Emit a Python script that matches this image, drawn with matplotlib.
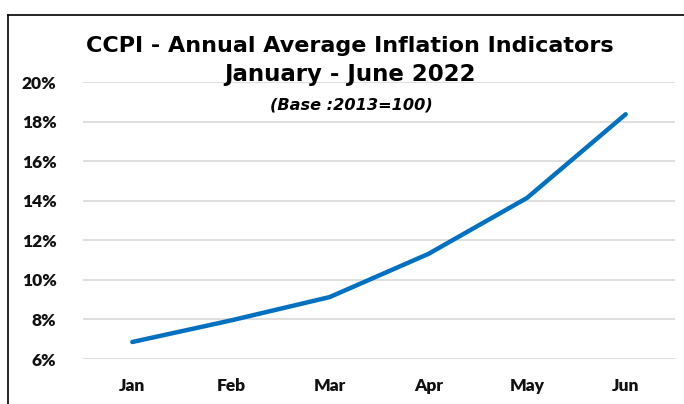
import matplotlib
matplotlib.use('Agg')
import matplotlib.pyplot as plt
from matplotlib.lines import Line2D
from matplotlib.ticker import FuncFormatter

months = ['Jan', 'Feb', 'Mar', 'Apr', 'May', 'Jun']
inflation = [6.86, 7.95, 9.13, 11.31, 14.14, 18.37]
yticks = [6, 8, 10, 12, 14, 16, 18, 20]

title_1 = 'CCPI - Annual Average Inflation Indicators'
title_2 = 'January - June 2022'
title_3 = '(Base :2013=100)'

fig = plt.figure(figsize=(6.84, 4.04), dpi=100)
ax = fig.add_axes([83/684, 45/404, (675-83)/684, (359-82)/404])

x = list(range(len(months)))
ax.plot(x, inflation, color='#0070C0', lw=3.2, solid_capstyle='round', solid_joinstyle='round', zorder=3)

ax.set_xlim(-0.5, 5.5)
ax.set_ylim(6, 20)
ax.set_yticks(yticks)
ax.yaxis.set_major_formatter(FuncFormatter(lambda v, p: f'{v:.0f}%'))
ax.set_xticks(x)
ax.set_xticklabels(months)
ax.grid(axis='y', color='#D9D9D9', lw=1.2)
ax.set_axisbelow(True)
for s in ax.spines.values():
    s.set_visible(False)
ax.tick_params(length=0)
ax.tick_params(axis='y', pad=19)
ax.tick_params(axis='x', pad=14)
for lab in ax.get_xticklabels() + ax.get_yticklabels():
    lab.set_fontfamily('Lato')
    lab.set_fontweight('heavy')
    lab.set_fontsize(12.5)
    lab.set_color('#111111')

fig.text(350/684, 1 - 46/404, title_1, ha='center', va='center', fontsize=16,
         fontweight='bold', family='DejaVu Sans')
fig.text(350/684, 1 - 75/404, title_2, ha='center', va='center', fontsize=16.5,
         fontweight='bold', family='DejaVu Sans')
fig.text(351/684, 1 - 105/404, title_3, ha='center', va='center', fontsize=11.6,
         fontweight='bold', style='italic', family='DejaVu Sans')

# chart border (cropped: only top and left visible)
fig.add_artist(Line2D([8/684, 1], [1 - 15/404, 1 - 15/404], color='black', lw=1.2))
fig.add_artist(Line2D([8/684, 8/684], [0, 1 - 15/404], color='black', lw=1.2))

fig.savefig('out.png', dpi=100)
